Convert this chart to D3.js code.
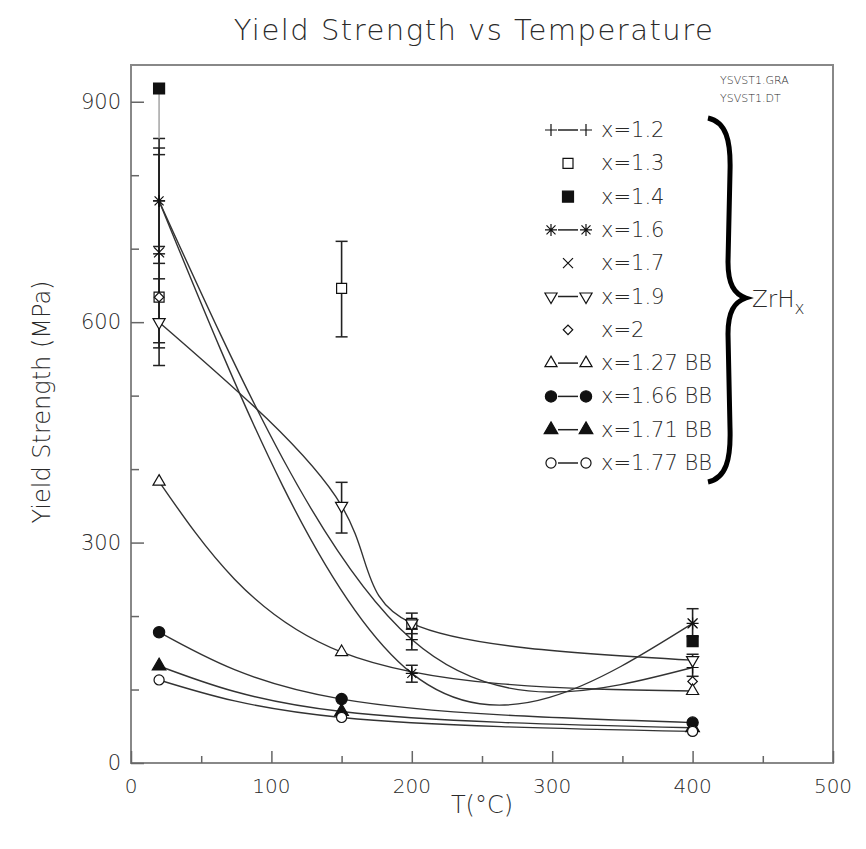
<!DOCTYPE html>
<html>
<head>
<meta charset="utf-8">
<script src="https://cdn.jsdelivr.net/npm/d3@7"></script>
<style>
  body { margin: 0; background: #fff; }
  text { font-family: "DejaVu Sans", sans-serif; font-weight: 200; fill: #2a2a2a; }
</style>
</head>
<body>
<div id="chart"></div>
<script>
// values: temperature (°C), yield strength (MPa), error bar [low, high]
const T_x12 = [20, 200, 400];
const Y_x12 = [765, 168, 130];
const E_x12 = [[680, 850], [154, 182], [118, 148]];

const T_x13 = [20, 150, 200];
const Y_x13 = [634, 646, 190];
const E_x13 = [[565, 703], [580, 710], [176, 204]];

const T_x14 = [20, 400];
const Y_x14 = [918, 166];
const E_x14 = [[850, 918], null];

const T_x16 = [20, 200, 400];
const Y_x16 = [765, 122, 190];
const E_x16 = [[693, 837], [110, 133], null];

const T_x17 = [20, 400];
const Y_x17 = [695, 190];
const E_x17 = [[572, 828], [172, 210]];

const T_x19 = [20, 150, 200, 400];
const Y_x19 = [600, 350, 190, 140];
const E_x19 = [[541, 659], [313, 382], null, null];

const T_x2 = [20, 400];
const Y_x2 = [634, 111];

const T_bb = [20, 150, 400];
const Y_x127bb = [383, 151, 98];
const Y_x166bb = [178, 87, 55];
const Y_x171bb = [132, 70, 48];
const Y_x177bb = [113, 62, 43];

const xTicks = [0, 100, 200, 300, 400, 500];
const yTicks = [0, 300, 600, 900];

const series = [
  { name: "x=1.2", t: T_x12, v: Y_x12, err: E_x12, mark: "plus", line: true },
  { name: "x=1.3", t: T_x13, v: Y_x13, err: E_x13, mark: "squareOpen", line: false },
  { name: "x=1.4", t: T_x14, v: Y_x14, err: E_x14, mark: "squareFilled", line: false },
  { name: "x=1.6", t: T_x16, v: Y_x16, err: E_x16, mark: "asterisk", line: true },
  { name: "x=1.7", t: T_x17, v: Y_x17, err: E_x17, mark: "cross", line: false },
  { name: "x=1.9", t: T_x19, v: Y_x19, err: E_x19, mark: "triDownOpen", line: true },
  { name: "x=2", t: T_x2, v: Y_x2, err: null, mark: "diamondOpen", line: false },
  { name: "x=1.27 BB", t: T_bb, v: Y_x127bb, err: null, mark: "triUpOpen", line: true },
  { name: "x=1.66 BB", t: T_bb, v: Y_x166bb, err: null, mark: "circleFilled", line: true },
  { name: "x=1.71 BB", t: T_bb, v: Y_x171bb, err: null, mark: "triUpFilled", line: true },
  { name: "x=1.77 BB", t: T_bb, v: Y_x177bb, err: null, mark: "circleOpen", line: true },
];

const width = 866, height = 849;
const plotL = 131, plotR = 833, plotT = 65, plotB = 763;

const svg = d3.select("#chart").append("svg")
  .attr("width", width).attr("height", height);

const x = d3.scaleLinear().domain([0, 500]).range([plotL, plotR]);
const y = d3.scaleLinear().domain([0, 950]).range([plotB, plotT]);

// title and axis titles
svg.append("text").attr("x", 474).attr("y", 40).attr("text-anchor", "middle")
  .style("font-size", "29px").style("letter-spacing", "1.5px")
  .text("Yield Strength vs Temperature");
svg.append("text").attr("x", 482).attr("y", 813).attr("text-anchor", "middle")
  .style("font-size", "24px").text("T(°C)");
svg.append("text").attr("transform", "translate(50,402) rotate(-90)")
  .attr("text-anchor", "middle").style("font-size", "24px").text("Yield Strength (MPa)");

// frame
svg.append("rect").attr("x", plotL).attr("y", plotT)
  .attr("width", plotR - plotL).attr("height", plotB - plotT)
  .attr("fill", "none").attr("stroke", "#888").attr("stroke-width", 2);

// ticks, pointing inward
const gx = svg.append("g").attr("transform", `translate(0,${plotB})`)
  .call(d3.axisTop(x).tickValues(d3.range(0, 501, 50)).tickSize(7).tickFormat(""));
gx.selectAll(".tick line").filter((d) => d % 100 === 0).attr("y2", -12);
const gy = svg.append("g").attr("transform", `translate(${plotL},0)`)
  .call(d3.axisRight(y).tickValues(d3.range(0, 901, 100)).tickSize(8).tickFormat(""));
gy.selectAll(".tick line").filter((d) => d % 300 === 0).attr("x2", 13);
svg.selectAll(".domain").remove();
svg.selectAll(".tick line").attr("stroke", "#666").attr("stroke-width", 1.5);

svg.selectAll(".xlab").data(xTicks).join("text").attr("class", "xlab")
  .attr("x", (d) => x(d)).attr("y", 793).attr("text-anchor", "middle")
  .style("font-size", "20px").text((d) => d);
svg.selectAll(".ylab").data(yTicks).join("text").attr("class", "ylab")
  .attr("x", 121).attr("y", (d) => y(d) + 7).attr("text-anchor", "end")
  .style("font-size", "21px").text((d) => d);

function marker(g, type, cx, cy) {
  const ink = "#111";
  const s = 6;
  let p;
  if (type === "plus") {
    p = g.append("path").attr("d", `M${cx - s},${cy}H${cx + s}M${cx},${cy - s}V${cy + s}`);
  } else if (type === "cross") {
    const k = 5;
    p = g.append("path").attr("d",
      `M${cx - k},${cy - k}L${cx + k},${cy + k}M${cx - k},${cy + k}L${cx + k},${cy - k}`);
  } else if (type === "asterisk") {
    const k = 4.5;
    p = g.append("path").attr("d",
      `M${cx - s},${cy}H${cx + s}M${cx},${cy - s}V${cy + s}` +
      `M${cx - k},${cy - k}L${cx + k},${cy + k}M${cx - k},${cy + k}L${cx + k},${cy - k}`);
  } else {
    const shapes = {
      squareOpen: [d3.symbolSquare, 100, 0, false],
      squareFilled: [d3.symbolSquare, 121, 0, true],
      triDownOpen: [d3.symbolTriangle, 64, 180, false],
      diamondOpen: [d3.symbolSquare, 45, 45, false],
      triUpOpen: [d3.symbolTriangle, 64, 0, false],
      circleFilled: [d3.symbolCircle, 100, 0, true],
      triUpFilled: [d3.symbolTriangle, 80, 0, true],
      circleOpen: [d3.symbolCircle, 80, 0, false],
    };
    const [sym, size, rot, filled] = shapes[type];
    p = g.append("path").attr("d", d3.symbol().type(sym).size(size)())
      .attr("transform", `translate(${cx},${cy}) rotate(${rot})`)
      .attr("fill", filled ? ink : "#fff");
  }
  p.attr("stroke", ink).attr("stroke-width", 1.2);
  if (!p.attr("fill")) p.attr("fill", "none");
}

const plot = svg.append("g");

const line = d3.line()
  .x((d) => x(d[0]))
  .y((d) => y(d[1]))
  .curve(d3.curveNatural);

series.filter((s) => s.line).forEach((s) => {
  plot.append("path")
    .datum(s.t.map((t, i) => [t, s.v[i]]))
    .attr("fill", "none").attr("stroke", "#333").attr("stroke-width", 1.4)
    .attr("d", line);
});

// error bars
series.filter((s) => s.err).forEach((s) => {
  s.err.forEach((e, i) => {
    if (!e) return;
    const cx = x(s.t[i]);
    const grey = s.name === "x=1.4";
    plot.append("line").attr("x1", cx).attr("x2", cx)
      .attr("y1", y(e[0])).attr("y2", y(e[1]))
      .attr("stroke", grey ? "#aaa" : "#222").attr("stroke-width", 1.6);
    if (grey) return;
    [e[0], e[1]].forEach((v) => {
      plot.append("line").attr("x1", cx - 6).attr("x2", cx + 6)
        .attr("y1", y(v)).attr("y2", y(v))
        .attr("stroke", "#222").attr("stroke-width", 1.5);
    });
  });
});

series.forEach((s) => {
  s.t.forEach((t, i) => marker(plot, s.mark, x(t), y(s.v[i])));
});

// legend
const legend = svg.append("g");
series.forEach((s, i) => {
  const ly = 130 + i * 33.3;
  if (s.line) {
    legend.append("line").attr("x1", 558).attr("x2", 578)
      .attr("y1", ly).attr("y2", ly).attr("stroke", "#222").attr("stroke-width", 1.5);
    marker(legend, s.mark, 551, ly);
    marker(legend, s.mark, 586, ly);
  } else {
    marker(legend, s.mark, 568, ly);
  }
  legend.append("text").attr("x", 601).attr("y", ly + 7)
    .style("font-size", "21px").text(s.name);
});

// brace and label
svg.append("path")
  .attr("d", "M708,118 C726,122 731,140 730,172 L728,262 C728,284 734,294 746,298 C734,302 728,312 728,334 L730,428 C731,460 726,478 708,482")
  .attr("fill", "none").attr("stroke", "#000").attr("stroke-width", 5);
const zr = svg.append("text").attr("x", 752).attr("y", 307).style("font-size", "23px");
zr.append("tspan").text("ZrH");
zr.append("tspan").attr("dy", 7).style("font-size", "17px").text("x");

svg.append("text").attr("x", 720).attr("y", 84).style("font-size", "11px").text("YSVST1.GRA");
svg.append("text").attr("x", 720).attr("y", 102).style("font-size", "11px").text("YSVST1.DT");
</script>
</body>
</html>
